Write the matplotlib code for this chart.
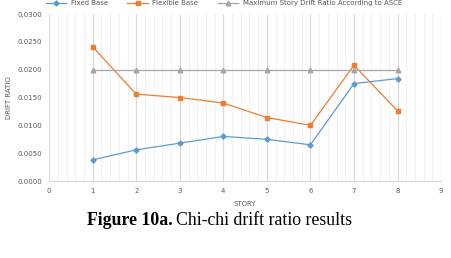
import numpy as np
import matplotlib.pyplot as plt
from matplotlib.ticker import MultipleLocator

# drift ratio per story
story = [1, 2, 3, 4, 5, 6, 7, 8]
fixed_base = [0.0038, 0.0056, 0.0068, 0.0080, 0.0075, 0.0065, 0.0175, 0.0184]
flexible_base = [0.0241, 0.0156, 0.0150, 0.0140, 0.0114, 0.0100, 0.0208, 0.0126]
asce_limit = [0.0200] * 8
y_ticks = [0.0, 0.005, 0.010, 0.015, 0.020, 0.025, 0.030]

txt = "#595959"
fs = 5.0

fig = plt.figure(figsize=(4.51, 2.58), dpi=100)
ax = fig.add_axes([0.109, 0.2984, 0.869, 0.6473])

ax.plot(story, fixed_base, color="#5B9BD5", lw=0.9, marker="D", ms=2.6,
        label="Fixed Base")
ax.plot(story, flexible_base, color="#ED7D31", lw=0.9, marker="s", ms=3.3,
        label="Flexible Base")
ax.plot(story, asce_limit, color="#A5A5A5", lw=0.9, marker="^", ms=3.3,
        label="Maximum Story Drift Ratio According to ASCE")

ax.set_xlim(0, 9)
ax.set_ylim(0, 0.03)
ax.set_xticks(range(0, 10))
ax.set_yticks(y_ticks)
ax.set_yticklabels(["%.4f" % v for v in y_ticks])
ax.xaxis.set_minor_locator(MultipleLocator(0.2))
ax.tick_params(axis="both", which="both", length=0, labelsize=fs,
               labelcolor=txt, pad=5)

# vertical grid only
ax.grid(axis="x", which="major", color="#D9D9D9", lw=0.8)
ax.grid(axis="x", which="minor", color="#F0F0F0", lw=0.6)
ax.grid(axis="y", visible=False)
for s in ["top", "right", "left"]:
    ax.spines[s].set_visible(False)
ax.spines["bottom"].set_color("#D9D9D9")
ax.spines["bottom"].set_linewidth(0.8)
ax.set_axisbelow(True)

ax.set_xlabel("STORY", fontsize=fs, color=txt, labelpad=5)
ax.set_ylabel("DRIFT RATIO", fontsize=fs, color=txt, labelpad=4)

leg = ax.legend(loc="center", bbox_to_anchor=(0.496, 0.988), bbox_transform=fig.transFigure,
                ncol=3, frameon=False, fontsize=fs, handlelength=3.0,
                handletextpad=0.6, columnspacing=2.8, borderaxespad=0, borderpad=0)
for t in leg.get_texts():
    t.set_color(txt)

# caption under the chart
fig.text(0.383, 0.145, "Figure 10a.", fontsize=12.8, fontweight="bold",
         family="Liberation Serif", ha="right", va="center")
fig.text(0.39, 0.145, "Chi-chi drift ratio results", fontsize=12.8,
         family="Liberation Serif", ha="left", va="center")

fig.savefig("out.png", dpi=100)
